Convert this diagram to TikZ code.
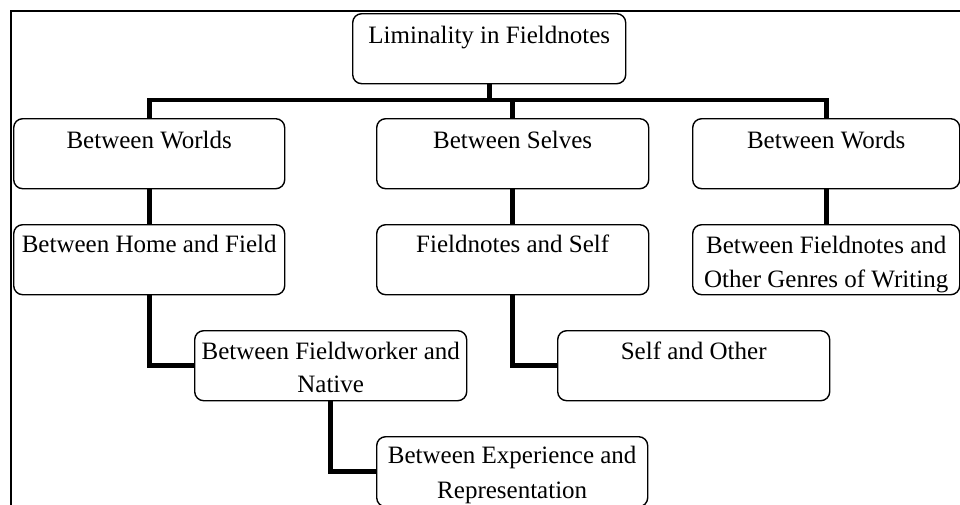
\documentclass[tikz,border=0pt]{standalone}
\usepackage{fontspec}
\setmainfont{Liberation Serif}
\begin{document}
\begin{tikzpicture}[x=1pt,y=-1pt,
  box/.style={draw=black,line width=1.4pt,rounded corners=9pt,fill=white,
    minimum height=70pt,inner sep=0pt,anchor=north west},
  txt/.style={font=\fontsize{25}{34}\selectfont,inner sep=0pt,anchor=base},
  conn/.style={line width=4.6pt,line join=miter,line cap=butt},
  frame/.style={line width=2.2pt}]
\useasboundingbox (0,0) rectangle (960,504);
\clip (0,0) rectangle (960,504);
\draw[frame] (970,11) -- (11,11) -- (11,520);
% boxes
\node[box,minimum width=273pt] (root) at (352,13) {};
\node[box,minimum width=271pt] (w)  at (13,118) {};
\node[box,minimum width=272pt] (s)  at (376,118) {};
\node[box,minimum width=267pt] (wo) at (692,118) {};
\node[box,minimum width=271pt] (hf) at (13,224) {};
\node[box,minimum width=272pt] (fs) at (376,224) {};
\node[box,minimum width=267pt] (ge) at (692,224) {};
\node[box,minimum width=272pt] (fw) at (194,330) {};
\node[box,minimum width=272pt] (so) at (557,330) {};
\node[box,minimum width=271pt] (er) at (376,436) {};
% texts
\node[txt] (root-t) at ([yshift=-30pt]root.north) {Liminality in Fieldnotes};
\node[txt] (w-t)  at ([yshift=-30pt]w.north) {Between Worlds};
\node[txt] (s-t)  at ([yshift=-30pt]s.north) {Between Selves};
\node[txt] (wo-t) at ([yshift=-30pt]wo.north) {Between Words};
\node[txt] (hf-t) at ([yshift=-28pt]hf.north) {Between Home and Field};
\node[txt] (fs-t) at ([yshift=-28pt]fs.north) {Fieldnotes and Self};
\node[txt] (ge-t1) at ([yshift=-29pt]ge.north) {Between Fieldnotes and};
\node[txt] (ge-t2) at ([yshift=-63pt]ge.north) {Other Genres of Writing};
\node[txt] (fw-t1) at ([yshift=-29pt]fw.north) {Between Fieldworker and};
\node[txt] (fw-t2) at ([yshift=-62pt]fw.north) {Native};
\node[txt] (so-t) at ([yshift=-29pt]so.north) {Self and Other};
\node[txt] (er-t1) at ([yshift=-27pt]er.north) {Between Experience and};
\node[txt] (er-t2) at ([yshift=-62pt]er.north) {Representation};
% connectors
\coordinate (bus) at (0,100);
\draw[conn] (root.south) -- (root.south |- bus);
\draw[conn] (w.north) -- (w.north |- bus) -- (wo.north |- bus) -- (wo.north);
\draw[conn] (s.north) -- (s.north |- bus);
\draw[conn] (w.south) -- (hf.north);
\draw[conn] (s.south) -- (fs.north);
\draw[conn] (wo.south) -- (ge.north);
\draw[conn] (hf.south) |- (fw.west);
\draw[conn] (fs.south) |- (so.west);
\draw[conn] (fw.south) |- (er.west);
\end{tikzpicture}
\end{document}
